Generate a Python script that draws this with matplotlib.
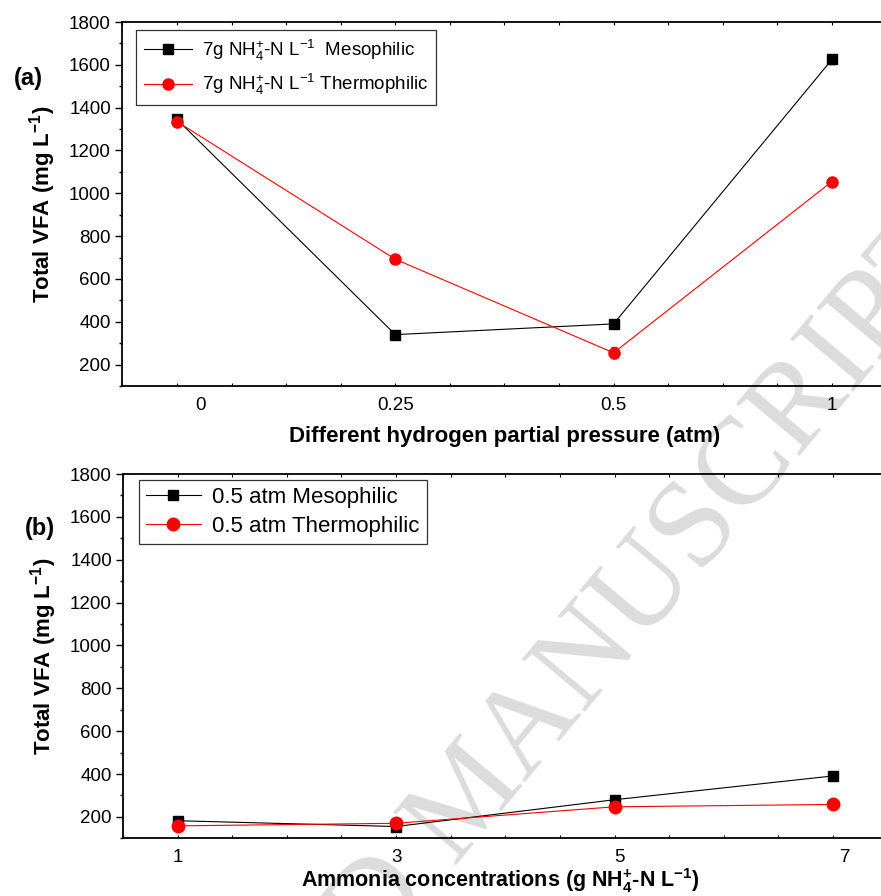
import matplotlib
matplotlib.use("Agg")
import matplotlib.pyplot as plt
import matplotlib.transforms as mtransforms
from matplotlib.lines import Line2D
import numpy as np

plt.rcParams['font.family'] = ['Liberation Sans', 'DejaVu Sans']
plt.rcParams['mathtext.default'] = 'regular'

# ---------------- data ----------------
# panel (a): hydrogen partial pressure
h2_labels = ['0', '0.25', '0.5', '1']
meso_a = [1345, 340, 390, 1625]
meso_a_err = [12, 8, 10, 22]
thermo_a = [1335, 692, 255, 1055]
thermo_a_err = [10, 10, 25, 12]

# panel (b): ammonia concentrations
nh4_conc = [1, 3, 5, 7]
meso_b = [182, 155, 280, 391]
meso_b_err = [6, 6, 6, 6]
thermo_b = [158, 170, 247, 258]
thermo_b_err = [6, 6, 6, 6]

fig = plt.figure(figsize=(8.81, 8.96), dpi=100)
W, H = 881, 896

def px_axes(l, t, r, b):
    return [l / W, 1 - b / H, (r - l) / W, (b - t) / H]

ax1 = fig.add_axes(px_axes(122, 22, 886.5, 386))
ax2 = fig.add_axes(px_axes(123, 474, 887.6, 838.3))
for ax in (ax1, ax2):
    ax.set_facecolor('none')

# watermark
ang = 50
dx, dy = np.cos(np.radians(ang)), np.sin(np.radians(ang))
px, py = 453, 865
gap = 32
wm_kw = dict(fontsize=90, color='#dcdcdc', family=['Liberation Serif', 'DejaVu Serif'],
             rotation=ang, rotation_mode='anchor', zorder=-5, va='baseline')
fig.text(px / W, 1 - py / H, 'MANUSCRIPT', ha='left', **wm_kw)
fig.text((px - gap * dx) / W, 1 - (py + gap * dy) / H, 'ACCEPTED', ha='right', **wm_kw)

def style_axes(ax):
    ax.set_ylim(100, 1800)
    ax.set_yticks(np.arange(200, 1801, 200))
    ax.set_yticks(np.arange(100, 1801, 100), minor=True)
    ax.tick_params(axis='y', which='major', direction='out', length=5, width=1,
                   labelsize=13.5, pad=3, left=True, right=False)
    ax.tick_params(axis='y', which='minor', direction='out', length=2.5, width=1,
                   left=True, right=False)
    ax.tick_params(axis='x', which='both', direction='in', length=2.5, width=0.8,
                   top=True, bottom=True, labelsize=13.5, pad=8)
    for s in ax.spines.values():
        s.set_linewidth(1.3)
    ax.set_ylabel('Total VFA (mg L$^{-1}$)', fontsize=16, fontweight='bold', labelpad=8)

line_kw = dict(lw=0.8)

# ---------- panel (a) ----------
xa = np.arange(len(h2_labels))
ax1.errorbar(xa, meso_a, yerr=meso_a_err, color='black', marker='s', ms=6.5,
             capsize=2, elinewidth=0.8, **line_kw)
ax1.errorbar(xa, thermo_a, yerr=thermo_a_err, color='red', marker='o', ms=8,
             capsize=2, elinewidth=0.8, **line_kw)
style_axes(ax1)
ax1.set_xlim(-0.252, 3.25)
ax1.set_xticks(xa)
ax1.set_xticklabels(h2_labels)
ax1.set_xticks(np.arange(-0.25, 3.26, 0.25), minor=True)
lab0 = ax1.get_xticklabels()[0]
lab0.set_transform(lab0.get_transform() + mtransforms.ScaledTranslation(23 / 100, 0, fig.dpi_scale_trans))
ax1.set_xlabel('Different hydrogen partial pressure (atm)', fontsize=16, fontweight='bold')
ax1.xaxis.set_label_coords((505 - 122) / (886.5 - 122), -0.11)
h_a = [Line2D([], [], color='black', marker='s', ms=6.5, lw=0.8),
       Line2D([], [], color='red', marker='o', ms=8, lw=0.8)]
leg1 = ax1.legend(h_a, ['7g NH$_4^{+}$-N L$^{-1}$  Mesophilic', '7g NH$_4^{+}$-N L$^{-1}$ Thermophilic'],
                  loc='upper left', bbox_to_anchor=(14 / 764.5, 1 - 8 / 364), fontsize=13.5,
                  frameon=True, fancybox=False, edgecolor='black', handlelength=2.6,
                  borderpad=0.4, labelspacing=0.5, handletextpad=0.5, borderaxespad=0)
leg1.get_frame().set_linewidth(0.9)
fig.text(28 / W, 1 - 79 / H, '(a)', fontsize=17, fontweight='bold', ha='center', va='center')

# ---------- panel (b) ----------
ax2.errorbar(nh4_conc, meso_b, yerr=meso_b_err, color='black', marker='s', ms=7.5,
             capsize=2, elinewidth=0.8, **line_kw)
ax2.errorbar(nh4_conc, thermo_b, yerr=thermo_b_err, color='red', marker='o', ms=9,
             capsize=2, elinewidth=0.8, **line_kw)
style_axes(ax2)
ax2.set_xlim(0.5, 7.5)
ax2.set_xticks(nh4_conc)
ax2.set_xticklabels([str(v) for v in nh4_conc])
ax2.set_xticks(np.arange(0.5, 7.51, 0.5), minor=True)
offs = [0, 0, 5, 12]
for lab, o in zip(ax2.get_xticklabels(), offs):
    if o:
        lab.set_transform(lab.get_transform() + mtransforms.ScaledTranslation(o / 100, 0, fig.dpi_scale_trans))
ax2.set_xlabel('Ammonia concentrations (g NH$_4^{+}$-N L$^{-1}$)', fontsize=15.5, fontweight='bold')
ax2.xaxis.set_label_coords((500 - 123) / (887.6 - 123), -0.076)
h_b = [Line2D([], [], color='black', marker='s', ms=7.5, lw=0.8),
       Line2D([], [], color='red', marker='o', ms=9, lw=0.8)]
leg2 = ax2.legend(h_b, ['0.5 atm Mesophilic', '0.5 atm Thermophilic'],
                  loc='upper left', bbox_to_anchor=(16 / 764.6, 1 - 6 / 364.3), fontsize=16,
                  frameon=True, fancybox=False, edgecolor='black', handlelength=2.5,
                  borderpad=0.3, labelspacing=0.38, handletextpad=0.5, borderaxespad=0)
leg2.get_frame().set_linewidth(0.9)
fig.text(40 / W, 1 - 529 / H, '(b)', fontsize=17, fontweight='bold', ha='center', va='center')

fig.savefig('out.png', dpi=100)
